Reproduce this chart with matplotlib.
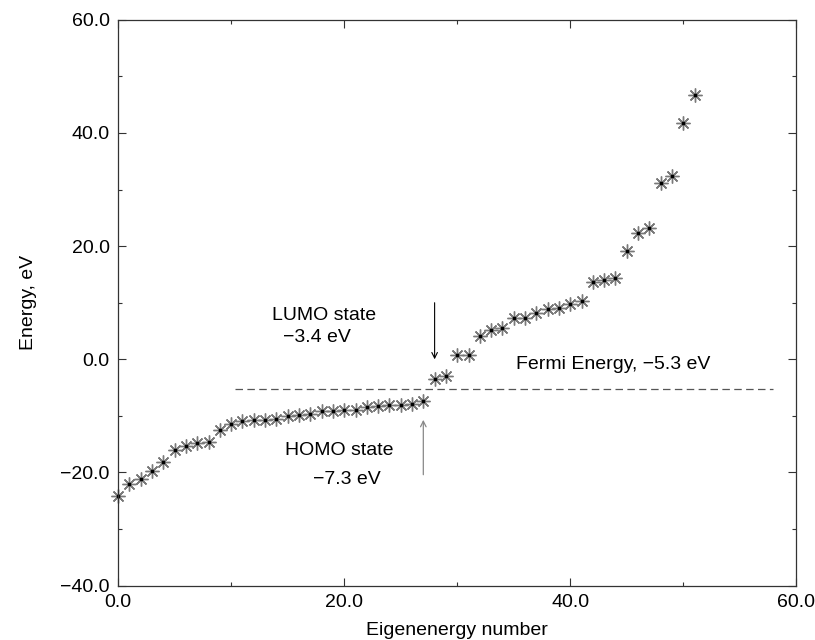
import matplotlib
matplotlib.use("Agg")
import matplotlib.pyplot as plt
import numpy as np
from matplotlib.ticker import MultipleLocator, FuncFormatter

plt.rcParams['font.family'] = ['Liberation Sans', 'DejaVu Sans']

# eigenvalues, eV
energies = [-24.1, -22.0, -21.1, -19.8, -18.1, -16.0, -15.4, -14.8, -14.7, -12.5,
            -11.4, -10.9, -10.8, -10.7, -10.5, -10.0, -9.9, -9.6, -9.2, -9.2,
            -9.0, -8.9, -8.4, -8.2, -8.1, -8.0, -7.9, -7.3, -3.4, -3.0,
            0.8, 0.8, 4.1, 5.1, 5.5, 7.3, 7.3, 8.1, 8.9, 9.0,
            9.8, 10.3, 13.6, 14.0, 14.4, 19.2, 22.4, 23.2, 31.1, 32.4,
            41.8, 46.7]
index = np.arange(len(energies))

fermi = -5.3
fermi_range = [10.3, 57.9]
homo_n, lumo_n = 27, 28


def fmt(v, pos):
    return f'{v:.1f}'.replace('-', '\u2212')


fig = plt.figure(figsize=(8.15, 6.4), dpi=100)
ax = fig.add_axes([0.145, 0.085, 0.832, 0.884])

ax.plot(index, energies, linestyle='none', marker=(8, 2, 0), markersize=10,
        markeredgecolor='#7a7a7a', markeredgewidth=1.0, clip_on=False)
ax.plot(index, energies, linestyle='none', marker='s', markersize=1.8,
        color='black', clip_on=False)

ax.plot(fermi_range, [fermi, fermi], linestyle=(0, (6, 3.5)), color='#555555',
        linewidth=0.9)

# arrows to HOMO / LUMO
ax.annotate('', xy=(lumo_n, 0.0), xytext=(lumo_n, 10.0),
            arrowprops=dict(arrowstyle='->', color='black', lw=0.8,
                            shrinkA=0, shrinkB=0))
ax.annotate('', xy=(homo_n, -10.7), xytext=(homo_n, -20.4),
            arrowprops=dict(arrowstyle='->', color='#888888', lw=0.9,
                            shrinkA=0, shrinkB=0))

ax.text(18.2, 7.7, 'LUMO state', fontsize=14, ha='center', va='center')
ax.text(17.6, 3.8, '\u22123.4 eV', fontsize=14, ha='center', va='center')
ax.text(19.6, -16.1, 'HOMO state', fontsize=14, ha='center', va='center')
ax.text(20.2, -21.2, '\u22127.3 eV', fontsize=14, ha='center', va='center')
ax.text(43.8, -1.0, 'Fermi Energy, \u22125.3 eV', fontsize=14, ha='center',
        va='center')

ax.set_xlim(0, 60)
ax.set_ylim(-40, 60)
ax.xaxis.set_major_locator(MultipleLocator(20))
ax.xaxis.set_minor_locator(MultipleLocator(10))
ax.yaxis.set_major_locator(MultipleLocator(20))
ax.yaxis.set_minor_locator(MultipleLocator(10))
ax.xaxis.set_major_formatter(FuncFormatter(fmt))
ax.yaxis.set_major_formatter(FuncFormatter(fmt))

ax.tick_params(which='both', direction='in', top=True, right=True,
               labelsize=14, color='#333333', width=0.8)
ax.tick_params(which='major', length=5.5, pad=6)
ax.tick_params(which='minor', length=3)
for s in ax.spines.values():
    s.set_color('#333333')
    s.set_linewidth(0.9)

ax.set_xlabel('Eigenenergy number', fontsize=14, labelpad=8)
ax.set_ylabel('Energy, eV', fontsize=14, labelpad=17)

fig.savefig('out.png', dpi=100)
